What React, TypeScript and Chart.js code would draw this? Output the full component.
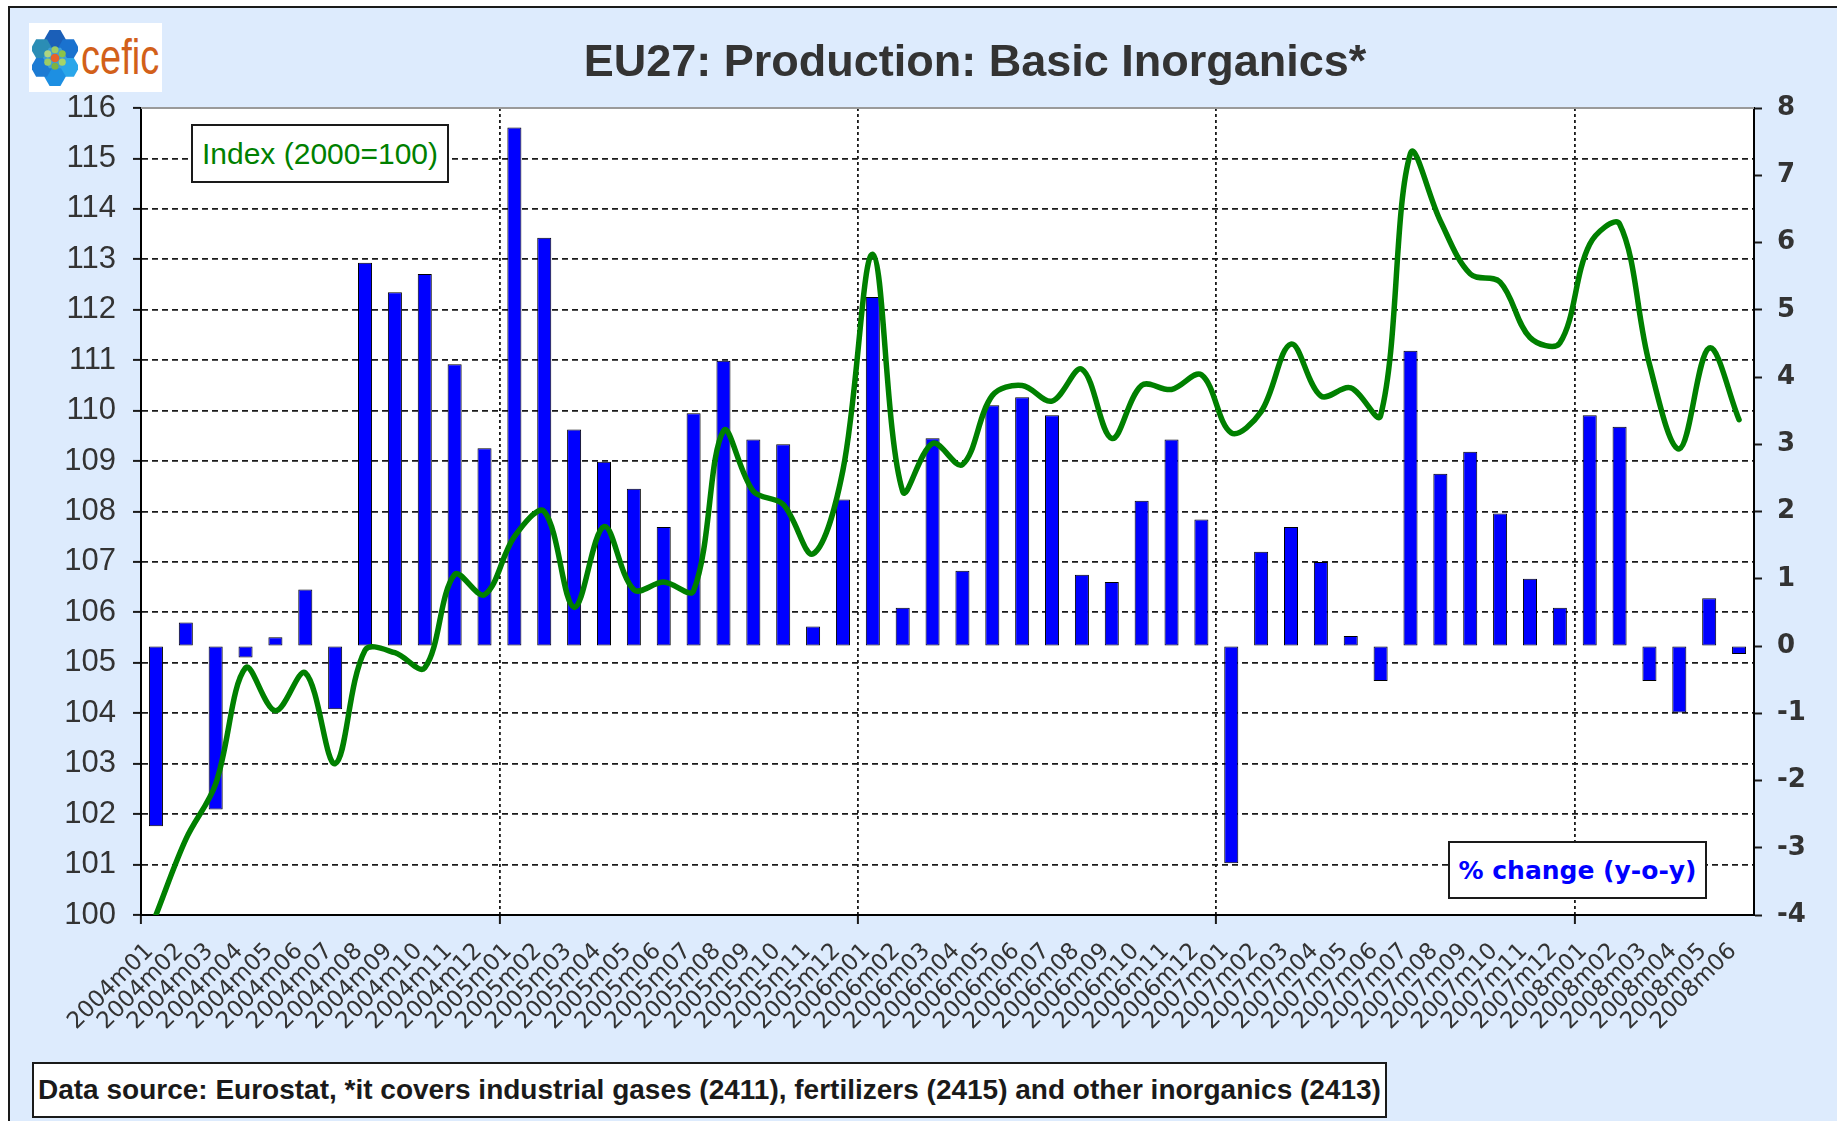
import React, { useEffect, useRef } from "react";
import { Chart, registerables } from "chart.js";

Chart.register(...registerables);

const categories = [
  "2004m01", "2004m02", "2004m03", "2004m04", "2004m05", "2004m06", "2004m07", "2004m08", "2004m09", "2004m10", "2004m11", "2004m12",
  "2005m01", "2005m02", "2005m03", "2005m04", "2005m05", "2005m06", "2005m07", "2005m08", "2005m09", "2005m10", "2005m11", "2005m12",
  "2006m01", "2006m02", "2006m03", "2006m04", "2006m05", "2006m06", "2006m07", "2006m08", "2006m09", "2006m10", "2006m11", "2006m12",
  "2007m01", "2007m02", "2007m03", "2007m04", "2007m05", "2007m06", "2007m07", "2007m08", "2007m09", "2007m10", "2007m11", "2007m12",
  "2008m01", "2008m02", "2008m03", "2008m04", "2008m05", "2008m06",
];

// Index (2000=100), left axis
const indexValues = [
  100.0, 101.5, 102.6, 104.9, 104.05, 104.8, 103.0, 105.25, 105.2, 104.9, 106.75, 106.35,
  107.5, 108.0, 106.1, 107.7, 106.45, 106.6, 106.43, 109.6, 108.4, 108.14, 107.16, 108.82,
  113.1, 108.4, 109.35, 108.93, 110.3, 110.5, 110.19, 110.82, 109.45, 110.5, 110.42, 110.71,
  109.56, 109.98, 111.32, 110.29, 110.45, 109.9, 115.1, 113.76, 112.71, 112.55, 111.45, 111.34,
  113.3, 113.7, 110.92, 109.24, 111.24, 109.82,
];

// % change (y-o-y), right axis
const pctChange = [
  -2.68, 0.35, -2.43, -0.17, 0.13, 0.84, -0.94, 5.7, 5.26, 5.53, 4.19, 2.94,
  7.71, 6.07, 3.22, 2.74, 2.34, 1.77, 3.46, 4.24, 3.07, 3.0, 0.29, 2.18,
  5.19, 0.57, 3.09, 1.12, 3.58, 3.7, 3.43, 1.06, 0.95, 2.16, 3.07, 1.88,
  -3.23, 1.4, 1.77, 1.25, 0.15, -0.52, 4.39, 2.56, 2.89, 1.97, 1.0, 0.57,
  3.43, 3.26, -0.52, -0.99, 0.71, -0.12,
];

const leftAxisRange = [100, 116];
const rightAxisRange = [-4, 8];
const yearBoundaryEvery = 12;

const titleText = "EU27: Production: Basic Inorganics*";
const indexLabel = "Index (2000=100)";
const pctLabel = "% change (y-o-y)";
const sourceText =
  "Data source: Eurostat, *it covers industrial gases (2411), fertilizers (2415) and other inorganics (2413)";

function hexPoints(cx: number, cy: number, r: number): string {
  const pts: string[] = [];
  for (let k = 0; k < 6; k++) {
    const a = (Math.PI / 3) * k;
    pts.push(`${(cx + r * Math.cos(a)).toFixed(2)},${(cy + r * Math.sin(a)).toFixed(2)}`);
  }
  return pts.join(" ");
}

function Logo() {
  const petals = [
    { x: 22, y: 11, c: "#1b5fb8" },
    { x: 35, y: 20, c: "#1a72cf" },
    { x: 35, y: 38, c: "#2aa6ea" },
    { x: 22, y: 47, c: "#1d8fe2" },
    { x: 9, y: 38, c: "#1c7bd3" },
    { x: 9, y: 20, c: "#2b8db5" },
  ];
  return (
    <div
      style={{
        position: "absolute",
        left: 29,
        top: 23,
        width: 133,
        height: 69,
        background: "#ffffff",
        overflow: "hidden",
      }}
    >
      <svg width={46} height={60} style={{ position: "absolute", left: 3, top: 5 }} viewBox="0 0 44 58">
        {petals.map((p, i) => (
          <polygon key={i} points={hexPoints(p.x, p.y, 10.5)} fill={p.c} />
        ))}
        <polygon points={hexPoints(22, 29, 11.5)} fill="#3f9fd8" />
        <circle cx={22} cy={21} r={3.4} fill="#9ccc65" />
        <circle cx={29} cy={25} r={3.4} fill="#8bc34a" />
        <circle cx={29} cy={33} r={3.4} fill="#a5d46a" />
        <circle cx={22} cy={37} r={3.4} fill="#7cb342" />
        <circle cx={15} cy={33} r={3.4} fill="#9ccc65" />
        <circle cx={15} cy={25} r={3.4} fill="#aed581" />
        <circle cx={22} cy={29} r={4.2} fill="#e8632a" />
      </svg>
      <div
        style={{
          position: "absolute",
          left: 52,
          top: 9,
          fontFamily: "'Liberation Sans', Arial, sans-serif",
          fontSize: 50,
          lineHeight: "50px",
          color: "#d2601a",
          transform: "scaleX(0.76)",
          transformOrigin: "left top",
          whiteSpace: "nowrap",
        }}
      >
        cefic
      </div>
    </div>
  );
}

export default function App() {
  const canvasRef = useRef<HTMLCanvasElement | null>(null);

  useEffect(() => {
    const canvas = canvasRef.current;
    if (!canvas) return;

    const plotFrame = {
      id: "plotFrame",
      beforeDraw(chart: any) {
        const { ctx, chartArea } = chart;
        ctx.save();
        ctx.fillStyle = "#ffffff";
        ctx.fillRect(chartArea.left, chartArea.top, chartArea.right - chartArea.left, chartArea.bottom - chartArea.top);
        ctx.restore();
      },
      beforeDatasetsDraw(chart: any) {
        const { ctx, chartArea } = chart;
        ctx.save();
        ctx.strokeStyle = "#9a9a9a";
        ctx.lineWidth = 2;
        ctx.beginPath();
        ctx.moveTo(chartArea.left, chartArea.top);
        ctx.lineTo(chartArea.right, chartArea.top);
        ctx.stroke();
        ctx.restore();
      },
    };

    const chart = new Chart(canvas, {
      type: "bar",
      data: {
        labels: categories,
        datasets: [
          {
            type: "line",
            label: indexLabel,
            data: indexValues,
            yAxisID: "y",
            borderColor: "#008000",
            backgroundColor: "#008000",
            borderWidth: 5.5,
            pointRadius: 0,
            tension: 0.35,
            fill: false,
            borderJoinStyle: "round",
            borderCapStyle: "round",
          } as any,
          {
            type: "bar",
            label: pctLabel,
            data: pctChange,
            yAxisID: "y2",
            backgroundColor: "#0000ff",
            borderColor: "#000000",
            borderWidth: 1,
            borderSkipped: false,
            barPercentage: 0.47,
            categoryPercentage: 1.0,
          } as any,
        ],
      },
      options: {
        animation: false,
        responsive: false,
        devicePixelRatio: 1,
        layout: { padding: { top: 108, left: 0, right: 0, bottom: 0 } },
        plugins: {
          legend: { display: false },
          tooltip: { enabled: false },
          title: { display: false },
        },
        scales: {
          x: {
            type: "category",
            offset: true,
            grid: {
              offset: true,
              drawOnChartArea: true,
              color: (ctx: any) => (ctx.index % yearBoundaryEvery === 0 ? "#1a1a1a" : "transparent"),
              lineWidth: 1.8,
              tickLength: 9,
              tickWidth: 2,
            },
            border: { display: true, color: "#000000", width: 2, dash: [3, 3] },
            ticks: {
              autoSkip: false,
              maxRotation: 45,
              minRotation: 45,
              padding: 14,
              labelOffset: -6,
              color: "#333333",
              font: { family: "'DejaVu Sans'", size: 23 },
            },
            afterFit: (scale: any) => {
              scale.height = 206;
            },
          },
          y: {
            position: "left",
            min: leftAxisRange[0],
            max: leftAxisRange[1],
            grid: {
              color: (ctx: any) =>
                ctx.tick && (ctx.tick.value === leftAxisRange[0] || ctx.tick.value === leftAxisRange[1])
                  ? "transparent"
                  : "#1a1a1a",
              lineWidth: 1.8,
              tickLength: 8,
              tickWidth: 2,
              tickColor: "#1a1a1a",
            },
            border: { display: true, color: "#000000", width: 2, dash: [6, 4] },
            ticks: {
              stepSize: 1,
              padding: 17,
              color: "#333333",
              font: { family: "'Liberation Sans', Arial", size: 31 },
            },
            afterFit: (scale: any) => {
              scale.width = 141;
            },
          },
          y2: {
            position: "right",
            min: rightAxisRange[0],
            max: rightAxisRange[1],
            grid: {
              drawOnChartArea: false,
              color: "#1a1a1a",
              tickLength: 8,
              tickWidth: 2,
            },
            border: { display: true, color: "#000000", width: 2 },
            ticks: {
              stepSize: 1,
              padding: 15,
              color: "#333333",
              font: { family: "'DejaVu Sans'", size: 26, weight: "bold" },
            },
            afterFit: (scale: any) => {
              scale.width = 83;
            },
          },
        },
      } as any,
      plugins: [plotFrame],
    });

    return () => {
      chart.destroy();
    };
  }, []);

  return (
    <div
      style={{
        position: "absolute",
        left: 0,
        top: 0,
        width: 1837,
        height: 1121,
        overflow: "hidden",
        background: "#ffffff",
      }}
    >
      <div
        style={{
          position: "absolute",
          left: 8,
          top: 6,
          width: 1900,
          height: 1200,
          border: "2px solid #1a1a1a",
          background: "#ddebfd",
        }}
      />
      <canvas
        ref={canvasRef}
        width={1837}
        height={1121}
        style={{ position: "absolute", left: 0, top: 0, width: 1837, height: 1121 }}
      />
      <Logo />
      <div
        style={{
          position: "absolute",
          left: 375,
          width: 1200,
          top: 38,
          textAlign: "center",
          fontFamily: "'Liberation Sans', Arial, sans-serif",
          fontWeight: "bold",
          fontSize: 45,
          lineHeight: "45px",
          color: "#333333",
          whiteSpace: "nowrap",
        }}
      >
        {titleText}
      </div>
      <div
        style={{
          position: "absolute",
          left: 191,
          top: 124,
          width: 258,
          height: 59,
          boxSizing: "border-box",
          border: "2px solid #1a1a1a",
          background: "#ffffff",
          display: "flex",
          alignItems: "center",
          justifyContent: "center",
          fontFamily: "'Liberation Sans', Arial, sans-serif",
          fontSize: 30,
          color: "#008000",
          whiteSpace: "nowrap",
        }}
      >
        {indexLabel}
      </div>
      <div
        style={{
          position: "absolute",
          left: 1448,
          top: 841,
          width: 259,
          height: 58,
          boxSizing: "border-box",
          border: "2px solid #1a1a1a",
          background: "#ffffff",
          display: "flex",
          alignItems: "center",
          justifyContent: "center",
          fontFamily: "'DejaVu Sans', sans-serif",
          fontWeight: "bold",
          fontSize: 25,
          color: "#0000ff",
          whiteSpace: "nowrap",
        }}
      >
        {pctLabel}
      </div>
      <div
        style={{
          position: "absolute",
          left: 32,
          top: 1062,
          width: 1355,
          height: 56,
          boxSizing: "border-box",
          border: "2px solid #1a1a1a",
          background: "#ffffff",
          display: "flex",
          alignItems: "center",
          paddingLeft: 4,
          fontFamily: "'Liberation Sans', Arial, sans-serif",
          fontWeight: "bold",
          fontSize: 28,
          color: "#1a1a1a",
          whiteSpace: "nowrap",
        }}
      >
        {sourceText}
      </div>
    </div>
  );
}
